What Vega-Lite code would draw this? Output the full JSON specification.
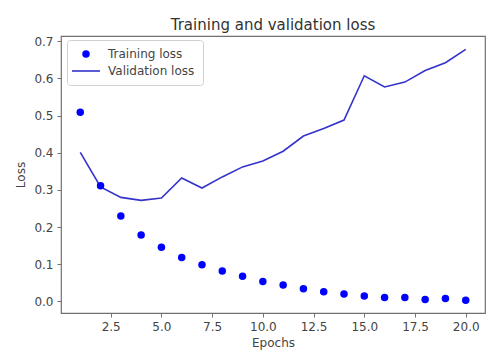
{
  "$schema": "https://vega.github.io/schema/vega-lite/v6.json",
  "autosize": {"type": "none"},
  "padding": {"left": 61, "top": 36, "right": 15, "bottom": 47},
  "width": 424,
  "height": 277,
  "datasets": {
    "train": [
      {"epoch": 1, "loss": 0.509, "series": "Training loss"},
      {"epoch": 2, "loss": 0.311, "series": "Training loss"},
      {"epoch": 3, "loss": 0.230, "series": "Training loss"},
      {"epoch": 4, "loss": 0.179, "series": "Training loss"},
      {"epoch": 5, "loss": 0.146, "series": "Training loss"},
      {"epoch": 6, "loss": 0.118, "series": "Training loss"},
      {"epoch": 7, "loss": 0.099, "series": "Training loss"},
      {"epoch": 8, "loss": 0.082, "series": "Training loss"},
      {"epoch": 9, "loss": 0.068, "series": "Training loss"},
      {"epoch": 10, "loss": 0.054, "series": "Training loss"},
      {"epoch": 11, "loss": 0.044, "series": "Training loss"},
      {"epoch": 12, "loss": 0.034, "series": "Training loss"},
      {"epoch": 13, "loss": 0.026, "series": "Training loss"},
      {"epoch": 14, "loss": 0.020, "series": "Training loss"},
      {"epoch": 15, "loss": 0.015, "series": "Training loss"},
      {"epoch": 16, "loss": 0.011, "series": "Training loss"},
      {"epoch": 17, "loss": 0.011, "series": "Training loss"},
      {"epoch": 18, "loss": 0.005, "series": "Training loss"},
      {"epoch": 19, "loss": 0.008, "series": "Training loss"},
      {"epoch": 20, "loss": 0.003, "series": "Training loss"}
    ],
    "val": [
      {"epoch": 1, "loss": 0.401, "series": "Validation loss"},
      {"epoch": 2, "loss": 0.308, "series": "Validation loss"},
      {"epoch": 3, "loss": 0.280, "series": "Validation loss"},
      {"epoch": 4, "loss": 0.272, "series": "Validation loss"},
      {"epoch": 5, "loss": 0.278, "series": "Validation loss"},
      {"epoch": 6, "loss": 0.332, "series": "Validation loss"},
      {"epoch": 7, "loss": 0.305, "series": "Validation loss"},
      {"epoch": 8, "loss": 0.335, "series": "Validation loss"},
      {"epoch": 9, "loss": 0.362, "series": "Validation loss"},
      {"epoch": 10, "loss": 0.378, "series": "Validation loss"},
      {"epoch": 11, "loss": 0.404, "series": "Validation loss"},
      {"epoch": 12, "loss": 0.445, "series": "Validation loss"},
      {"epoch": 13, "loss": 0.465, "series": "Validation loss"},
      {"epoch": 14, "loss": 0.488, "series": "Validation loss"},
      {"epoch": 15, "loss": 0.607, "series": "Validation loss"},
      {"epoch": 16, "loss": 0.577, "series": "Validation loss"},
      {"epoch": 17, "loss": 0.590, "series": "Validation loss"},
      {"epoch": 18, "loss": 0.621, "series": "Validation loss"},
      {"epoch": 19, "loss": 0.642, "series": "Validation loss"},
      {"epoch": 20, "loss": 0.678, "series": "Validation loss"}
    ]
  },
  "title": {
    "text": "Training and validation loss",
    "font": "DejaVu Sans",
    "fontSize": 15,
    "fontWeight": "normal",
    "color": "#333333",
    "offset": 2
  },
  "config": {
    "font": "DejaVu Sans",
    "view": {"stroke": "#707070", "strokeWidth": 1.2},
    "axis": {
      "grid": false,
      "domain": false,
      "tickColor": "#707070",
      "tickSize": 4,
      "labelFont": "DejaVu Sans",
      "labelFontSize": 12,
      "labelColor": "#444444",
      "labelPadding": 4,
      "titleFont": "DejaVu Sans",
      "titleFontSize": 12,
      "titleFontWeight": "normal",
      "titleColor": "#444444"
    }
  },
  "encoding": {
    "x": {
      "field": "epoch",
      "type": "quantitative",
      "scale": {"domain": [0.05, 20.95], "nice": false, "zero": false},
      "axis": {"title": "Epochs", "values": [2.5, 5, 7.5, 10, 12.5, 15, 17.5, 20], "format": ".1f", "titlePadding": 5}
    },
    "y": {
      "field": "loss",
      "type": "quantitative",
      "scale": {"domain": [-0.031, 0.714], "nice": false, "zero": false},
      "axis": {"title": "Loss", "values": [0, 0.1, 0.2, 0.3, 0.4, 0.5, 0.6, 0.7], "format": ".1f", "titlePadding": 6}
    },
    "color": {
      "field": "series",
      "type": "nominal",
      "scale": {"domain": ["Training loss", "Validation loss"], "range": ["#0000ff", "#3333cc"]},
      "legend": {
        "title": null,
        "orient": "none",
        "legendX": 6,
        "legendY": 4,
        "fillColor": "white",
        "strokeColor": "#d0d0d0",
        "cornerRadius": 3,
        "padding": 8,
        "rowPadding": 5,
        "symbolSize": 64,
        "symbolOffset": 5,
        "labelOffset": 16,
        "labelFont": "DejaVu Sans",
        "labelFontSize": 12,
        "labelColor": "#444444",
        "encode": {
          "symbols": {
            "update": {
              "shape": {"signal": "datum.index === 0 ? 'circle' : 'M-3.5,0H3.5'"},
              "size": {"signal": "datum.index === 0 ? 56 : 64"},
              "fill": {"signal": "datum.index === 0 ? '#0000ff' : 'transparent'"},
              "stroke": {"signal": "datum.index === 0 ? 'transparent' : '#3333cc'"},
              "strokeWidth": {"signal": "datum.index === 0 ? 0 : 1.6"},
              "opacity": {"value": 1}
            }
          }
        }
      }
    }
  },
  "layer": [
    {
      "data": {"name": "val"},
      "mark": {"type": "line", "strokeWidth": 1.6}
    },
    {
      "data": {"name": "train"},
      "mark": {"type": "point", "filled": true, "size": 56, "opacity": 1}
    }
  ]
}
